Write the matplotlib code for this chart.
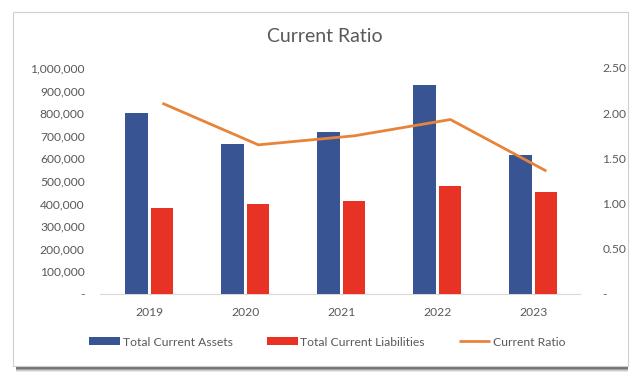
import numpy as np
import matplotlib.pyplot as plt
from matplotlib.patches import Rectangle
from matplotlib.ticker import FuncFormatter

plt.rcParams['font.family'] = ['Lato', 'DejaVu Sans']

years = ['2019', '2020', '2021', '2022', '2023']
assets = [800000, 662000, 718000, 924000, 615000]
liabilities = [381000, 399000, 412000, 476000, 452000]
ratio = [2.11, 1.65, 1.75, 1.93, 1.36]

blue = '#385492'
red = '#E83223'
orange = '#E8843A'
grey = '#595959'

fig = plt.figure(figsize=(6.4, 3.85), dpi=100)

# chart frame with a drop shadow, like the excel export
for i, a in enumerate([0.10, 0.16, 0.25, 0.4]):
    fig.patches.append(Rectangle((16/640, (385-372+i)/385), 612/640, 8/385,
                                 transform=fig.transFigure, facecolor='#303030',
                                 alpha=a, edgecolor='none', zorder=0))
fig.patches.append(Rectangle((13/640, (385-366)/385), 615/640, 354/385,
                             transform=fig.transFigure, facecolor='white',
                             edgecolor='#D0D0D0', linewidth=0.8, zorder=1))

ax = fig.add_axes([100/640, 1-294/385, 480/640, 226/385])
ax.set_zorder(2)
bx = ax.twinx()

x = np.arange(len(years))
w = 0.23
ax.bar(x - 0.27, assets, w, color=blue, label='Total Current Assets', zorder=3)
ax.bar(x + 0.0, liabilities, w, color=red, label='Total Current Liabilities', zorder=3)
bx.plot(x, ratio, color=orange, lw=2.0, label='Current Ratio', solid_capstyle='butt')

ax.set_xlim(-0.65, 4.35)
ax.set_ylim(0, 1000000)
bx.set_ylim(0, 2.5)
ax.set_xticks(x - 0.135)
ax.set_xticklabels(years)
ax.set_yticks(np.arange(0, 1000001, 100000))
bx.set_yticks(np.arange(0, 2.51, 0.5))
ax.yaxis.set_major_formatter(FuncFormatter(lambda v, p: '-' if v == 0 else '{:,.0f}'.format(v)))
bx.yaxis.set_major_formatter(FuncFormatter(lambda v, p: '-' if v == 0 else '%.2f' % v))

for a in (ax, bx):
    for s in ['top', 'left', 'right', 'bottom']:
        a.spines[s].set_visible(False)
    a.tick_params(length=0, colors=grey, labelsize=8.7)
ax.spines['bottom'].set_visible(True)
ax.spines['bottom'].set_color('#D9D9D9')
ax.tick_params(axis='y', pad=11)
ax.tick_params(axis='x', pad=9)
bx.tick_params(axis='y', pad=16)
ax.patch.set_visible(False)

fig.text(325/640, 1-37/385, 'Current Ratio', ha='center', va='center', fontsize=14, color=grey)

h1, l1 = ax.get_legend_handles_labels()
h2, l2 = bx.get_legend_handles_labels()
fig.legend(h1 + h2, l1 + l2, loc='center', bbox_to_anchor=(327/640, 1-342/385), ncol=3,
           frameon=False, fontsize=8.7, labelcolor=grey, handlelength=2.6, handleheight=0.6,
           handletextpad=0.2, columnspacing=2.8)

plt.savefig('out.png', dpi=100)
